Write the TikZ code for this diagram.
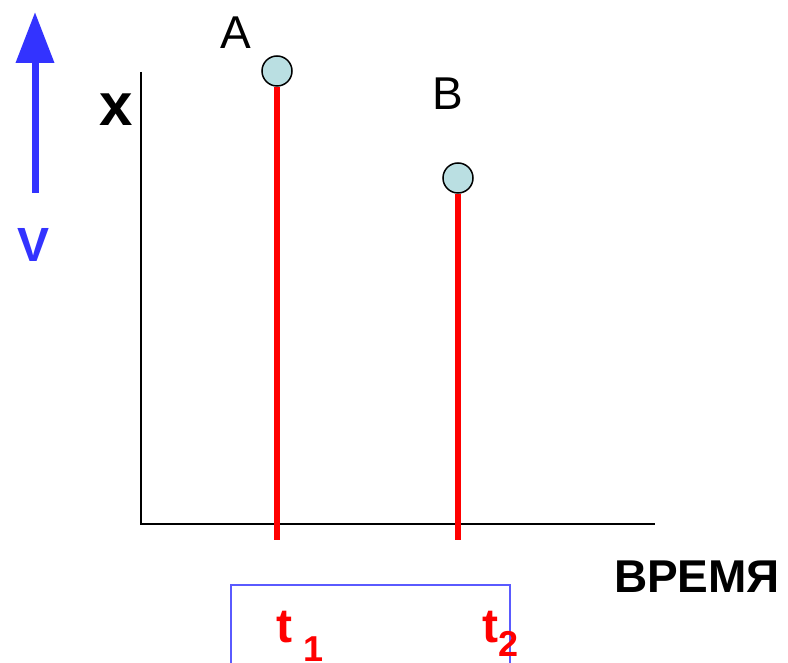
\documentclass[tikz,border=0pt]{standalone}
\usepackage{fontspec}
\setmainfont{Liberation Sans}
\usetikzlibrary{arrows.meta}
\definecolor{vblue}{RGB}{51,51,255}
\definecolor{boxblue}{RGB}{90,90,255}
\definecolor{dotfill}{RGB}{186,223,226}

\begin{document}
\begin{tikzpicture}[x=1pt,y=-1pt,thick,label text/.style={inner sep=0pt,font=\fontsize{46}{46}\selectfont},bold text/.style={inner sep=0pt,font=\fontsize{46}{46}\selectfont\bfseries},dot/.style={circle,draw=black,line width=1.5pt,fill=dotfill,minimum size=30pt,inner sep=0pt}]
\tikzstyle{red line} = [draw,line width=6pt,red]
\useasboundingbox (0,0) rectangle (788,663);

\coordinate (origin) at (141,524);
\coordinate (ytop) at (141,72);
\coordinate (xend) at (655,524);
\draw[line width=1.6pt] (ytop) -- (origin) -- (xend);

\node[bold text, font=\fontsize{60}{60}\selectfont\bfseries] at (116.5,109.5) (xlabel) {x};
\node[bold text] at (697,576.5) (timelabel) {ВРЕМЯ};

% velocity arrow
\coordinate (vstart) at (35,193);
\coordinate (vtip) at (35,12);
\draw[vblue, line width=7pt, -{Triangle[width=37pt,length=51pt]}] (vstart) -- (vtip);
\node[bold text, text=vblue, font=\fontsize{48}{48}\selectfont\bfseries] at (33.5,245) (vlabel) {V};

% events
\node[dot] at (277,71) (A) {};
\node[dot] at (458,178) (B) {};
\coordinate (t1end) at (277,540);
\coordinate (t2end) at (458,540);
\draw[red line] (A.south) -- (t1end);
\draw[red line] (B.south) -- (t2end);
\node[label text] at (236,32.5) (Alabel) {A};
\node[label text] at (447.5,93.5) (Blabel) {B};

% times
\draw[boxblue, line width=1.6pt] (231,585) rectangle (510,700);
\node[bold text, text=red, anchor=base west, font=\fontsize{48}{48}\selectfont\bfseries] at (276,642) (t1) {t\hspace{11pt}\raisebox{-19pt}{\fontsize{36}{36}\selectfont 1}};
\node[bold text, text=red, anchor=base west, font=\fontsize{48}{48}\selectfont\bfseries] at (482,642) (t2) {t\raisebox{-14pt}{\fontsize{36}{36}\selectfont 2}};

\end{tikzpicture}
\end{document}
